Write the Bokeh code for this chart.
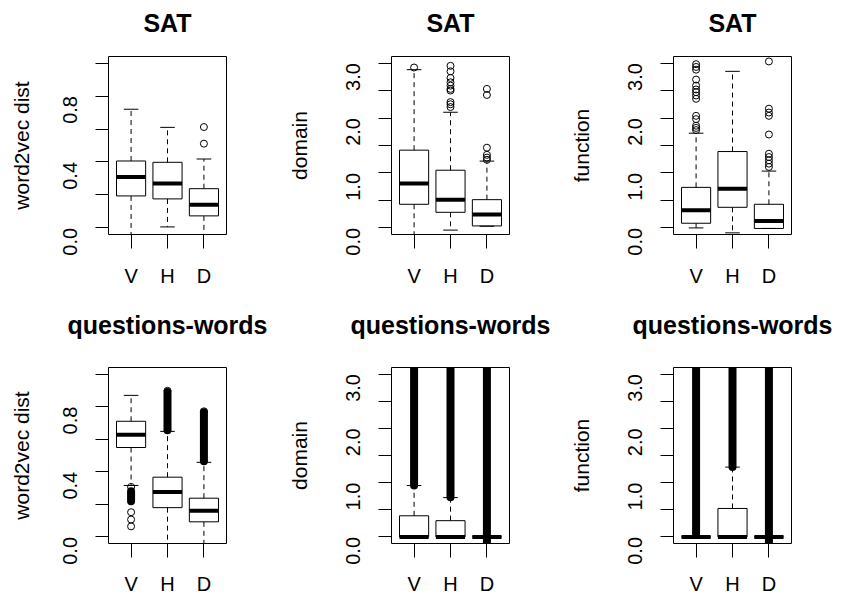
import math
from bokeh.plotting import figure
from bokeh.layouts import column, row
from bokeh.models import Range1d, FixedTicker
from bokeh.embed import file_html
from bokeh.resources import INLINE

CATEGORIES = ["V", "H", "D"]

# ---------------- SAT : word2vec dist ----------------
SAT_W2V_LO = [-0.05, 0.006, -0.05]
SAT_W2V_Q1 = [0.194, 0.176, 0.073]
SAT_W2V_MED = [0.309, 0.270, 0.141]
SAT_W2V_Q3 = [0.406, 0.398, 0.238]
SAT_W2V_HI = [0.720, 0.610, 0.418]
SAT_W2V_OUT = [[], [], [0.511, 0.612]]
SAT_W2V_DENSE = [[], [], []]

# ---------------- SAT : domain ----------------
SAT_DOM_LO = [-0.20, -0.04, 0.03]
SAT_DOM_Q1 = [0.43, 0.284, 0.036]
SAT_DOM_MED = [0.81, 0.514, 0.242]
SAT_DOM_Q3 = [1.415, 1.05, 0.514]
SAT_DOM_HI = [2.88, 2.105, 1.216]
SAT_DOM_OUT = [[2.92],
               [2.20, 2.25, 2.29, 2.50, 2.53, 2.59, 2.65, 2.73, 2.85, 2.95],
               [1.24, 1.28, 1.33, 1.46, 2.42, 2.53]]
SAT_DOM_DENSE = [[], [], []]

# ---------------- SAT : function ----------------
SAT_FUN_LO = [0.0, -0.09, -0.01]
SAT_FUN_Q1 = [0.085, 0.375, -0.01]
SAT_FUN_MED = [0.32, 0.714, 0.127]
SAT_FUN_Q3 = [0.738, 1.39, 0.43]
SAT_FUN_HI = [1.724, 2.85, 1.034]
SAT_FUN_OUT = [[1.78, 1.82, 1.86, 1.98, 2.04, 2.35, 2.41, 2.47, 2.52, 2.59, 2.70, 2.88, 2.93, 2.98],
               [],
               [1.11, 1.17, 1.23, 1.29, 1.35, 1.70, 2.04, 2.10, 2.17, 3.03]]
SAT_FUN_DENSE = [[], [], []]

# ---------------- questions-words : word2vec dist ----------------
QW_W2V_LO = [0.316, -0.05, -0.05]
QW_W2V_Q1 = [0.549, 0.180, 0.093]
QW_W2V_MED = [0.627, 0.276, 0.161]
QW_W2V_Q3 = [0.710, 0.367, 0.238]
QW_W2V_HI = [0.869, 0.648, 0.458]
QW_W2V_OUT = [[0.307, 0.152, 0.107, 0.065], [0.897], [0.771]]
QW_W2V_DENSE = [[(0.22, 0.28)], [(0.655, 0.89)], [(0.465, 0.765)]]

# ---------------- questions-words : domain ----------------
QW_DOM_LO = [0.0, 0.0, 0.0]
QW_DOM_Q1 = [0.0, 0.0, 0.0]
QW_DOM_MED = [0.0, 0.0, 0.0]
QW_DOM_Q3 = [0.39, 0.30, 0.0]
QW_DOM_HI = [0.947, 0.725, 0.0]
QW_DOM_OUT = [[], [], []]
QW_DOM_DENSE = [[(0.95, 3.4)], [(0.73, 3.4)], [(-0.10, 3.4)]]

# ---------------- questions-words : function ----------------
QW_FUN_LO = [0.0, 0.0, 0.0]
QW_FUN_Q1 = [0.0, 0.0, 0.0]
QW_FUN_MED = [0.0, 0.0, 0.0]
QW_FUN_Q3 = [0.0, 0.525, 0.0]
QW_FUN_HI = [0.0, 1.286, 0.0]
QW_FUN_OUT = [[], [], []]
QW_FUN_DENSE = [[(0.06, 3.4)], [(1.29, 3.4)], [(-0.10, 3.4)]]

# axes
W2V_TICKS = [0.0, 0.2, 0.4, 0.6, 0.8, 1.0]
W2V_TICK_LABELS = ["0.0", "", "0.4", "", "0.8", ""]
W2V_LIMITS = (-0.04, 1.04)
SCORE_TICKS = [0.0, 0.5, 1.0, 1.5, 2.0, 2.5, 3.0]
SCORE_TICK_LABELS = ["0.0", "", "1.0", "", "2.0", "", "3.0"]
SCORE_LIMITS = (-0.12, 3.12)
X_LIMITS = (0.38, 3.62)

FONT = "Liberation Sans"
BOX_W = 0.8
CAP_W = 0.4


def panel(title, ylabel, lo, q1, med, q3, hi, out, dense, ticks, tick_labels, ylim,
          width, height, b_left, b_right, b_top, b_bottom, title_standoff, x_standoff,
          ylab_standoff):
    p = figure(width=width, height=height, output_backend="svg", toolbar_location=None,
               x_range=Range1d(*X_LIMITS), y_range=Range1d(*ylim),
               min_border_left=b_left, min_border_right=b_right,
               min_border_top=b_top, min_border_bottom=b_bottom,
               background_fill_color="white", border_fill_color=None)
    p.xgrid.visible = False
    p.ygrid.visible = False
    p.outline_line_color = "black"
    p.outline_line_width = 1

    p.title.text = title
    p.title.align = "center"
    p.title.vertical_align = "top"
    p.title.text_font = FONT
    p.title.text_font_size = "25px"
    p.title.text_font_style = "bold"
    p.title.text_color = "black"
    p.title.standoff = title_standoff

    xs = [i + 1 for i in range(len(CATEGORIES))]

    xa = p.xaxis[0]
    xa.ticker = FixedTicker(ticks=xs, minor_ticks=[])
    xa.major_label_overrides = {x: c for x, c in zip(xs, CATEGORIES)}
    xa.axis_line_color = None
    xa.major_tick_in = 0
    xa.major_tick_out = 14
    xa.major_tick_line_color = "black"
    xa.major_label_text_font = FONT
    xa.major_label_text_font_size = "20px"
    xa.major_label_text_color = "black"
    xa.major_label_standoff = x_standoff

    ya = p.yaxis[0]
    ya.ticker = FixedTicker(ticks=ticks, minor_ticks=[])
    ya.major_label_overrides = {t: l for t, l in zip(ticks, tick_labels)}
    ya.axis_line_color = None
    ya.major_tick_in = 0
    ya.major_tick_out = 13
    ya.major_tick_line_color = "black"
    ya.major_label_orientation = math.pi / 2
    ya.major_label_text_font = FONT
    ya.major_label_text_font_size = "20px"
    ya.major_label_text_color = "black"
    ya.major_label_standoff = 25
    ya.axis_label = ylabel
    ya.axis_label_text_font = FONT
    ya.axis_label_text_font_size = "21px"
    ya.axis_label_text_font_style = "normal"
    ya.axis_label_text_color = "black"
    ya.axis_label_standoff = ylab_standoff

    # whiskers (dashed)
    p.segment(x0=xs, x1=xs, y0=q3, y1=hi, line_color="black", line_width=1, line_dash="5 4")
    p.segment(x0=xs, x1=xs, y0=q1, y1=lo, line_color="black", line_width=1, line_dash="5 4")

    # dense outlier runs
    dx, dlo, dhi = [], [], []
    for x, runs in zip(xs, dense):
        for a, b in runs:
            dx.append(x)
            dlo.append(a)
            dhi.append(b)
    if dx:
        p.segment(x0=dx, x1=dx, y0=dlo, y1=dhi, line_color="black", line_width=8,
                  line_cap="round")

    # staples
    p.segment(x0=[x - CAP_W / 2 for x in xs], x1=[x + CAP_W / 2 for x in xs], y0=hi, y1=hi,
              line_color="black", line_width=1)
    p.segment(x0=[x - CAP_W / 2 for x in xs], x1=[x + CAP_W / 2 for x in xs], y0=lo, y1=lo,
              line_color="black", line_width=1)

    # boxes
    p.quad(left=[x - BOX_W / 2 for x in xs], right=[x + BOX_W / 2 for x in xs],
           bottom=q1, top=q3, fill_color=None, line_color="black", line_width=1)

    # medians
    p.segment(x0=[x - BOX_W / 2 for x in xs], x1=[x + BOX_W / 2 for x in xs], y0=med, y1=med,
              line_color="black", line_width=4)

    # outliers
    ox, oy = [], []
    for x, vals in zip(xs, out):
        for v in vals:
            ox.append(x)
            oy.append(v)
    if ox:
        p.scatter(ox, oy, marker="circle", size=7, fill_color=None, line_color="black",
                  line_width=1)
    return p


COL_W = [284, 282, 279]
COL_L = [108, 107, 107]
FRAME_W = 118


def rb(i):
    return COL_W[i] - COL_L[i] - FRAME_W


# rows: (overlap above, height, border top, border bottom, title standoff)
TOP_UP, TOP_H, TOP_T, TOP_B, TOP_TITLE_SO = 14, 304, 70, 56, 36
BOT_UP, BOT_H, BOT_T, BOT_B, BOT_TITLE_SO = 10, 317, 87, 52, 53
YLAB_SO = [21, 26, 26]

p1 = panel("SAT", "word2vec dist", SAT_W2V_LO, SAT_W2V_Q1, SAT_W2V_MED, SAT_W2V_Q3, SAT_W2V_HI,
           SAT_W2V_OUT, SAT_W2V_DENSE, W2V_TICKS, W2V_TICK_LABELS, W2V_LIMITS,
           COL_W[0], TOP_H, COL_L[0], rb(0), TOP_T, TOP_B, TOP_TITLE_SO, 16, YLAB_SO[0])
p2 = panel("SAT", "domain", SAT_DOM_LO, SAT_DOM_Q1, SAT_DOM_MED, SAT_DOM_Q3, SAT_DOM_HI,
           SAT_DOM_OUT, SAT_DOM_DENSE, SCORE_TICKS, SCORE_TICK_LABELS, SCORE_LIMITS,
           COL_W[1], TOP_H, COL_L[1], rb(1), TOP_T, TOP_B, TOP_TITLE_SO, 16, YLAB_SO[1])
p3 = panel("SAT", "function", SAT_FUN_LO, SAT_FUN_Q1, SAT_FUN_MED, SAT_FUN_Q3, SAT_FUN_HI,
           SAT_FUN_OUT, SAT_FUN_DENSE, SCORE_TICKS, SCORE_TICK_LABELS, SCORE_LIMITS,
           COL_W[2], TOP_H, COL_L[2], rb(2), TOP_T, TOP_B, TOP_TITLE_SO, 16, YLAB_SO[2])
p4 = panel("questions-words", "word2vec dist", QW_W2V_LO, QW_W2V_Q1, QW_W2V_MED, QW_W2V_Q3,
           QW_W2V_HI, QW_W2V_OUT, QW_W2V_DENSE, W2V_TICKS, W2V_TICK_LABELS, W2V_LIMITS,
           COL_W[0], BOT_H, COL_L[0], rb(0), BOT_T, BOT_B, BOT_TITLE_SO, 15, YLAB_SO[0])
p5 = panel("questions-words", "domain", QW_DOM_LO, QW_DOM_Q1, QW_DOM_MED, QW_DOM_Q3,
           QW_DOM_HI, QW_DOM_OUT, QW_DOM_DENSE, SCORE_TICKS, SCORE_TICK_LABELS, SCORE_LIMITS,
           COL_W[1], BOT_H, COL_L[1], rb(1), BOT_T, BOT_B, BOT_TITLE_SO, 15, YLAB_SO[1])
p6 = panel("questions-words", "function", QW_FUN_LO, QW_FUN_Q1, QW_FUN_MED, QW_FUN_Q3,
           QW_FUN_HI, QW_FUN_OUT, QW_FUN_DENSE, SCORE_TICKS, SCORE_TICK_LABELS, SCORE_LIMITS,
           COL_W[2], BOT_H, COL_L[2], rb(2), BOT_T, BOT_B, BOT_TITLE_SO, 15, YLAB_SO[2])

top_row = row(p1, p2, p3, margin=(-TOP_UP, 0, 0, 0))
bottom_row = row(p4, p5, p6, margin=(-BOT_UP, 0, 0, 0))
layout = column(top_row, bottom_row)

with open("out.html", "w") as f:
    f.write(file_html(layout, INLINE))
